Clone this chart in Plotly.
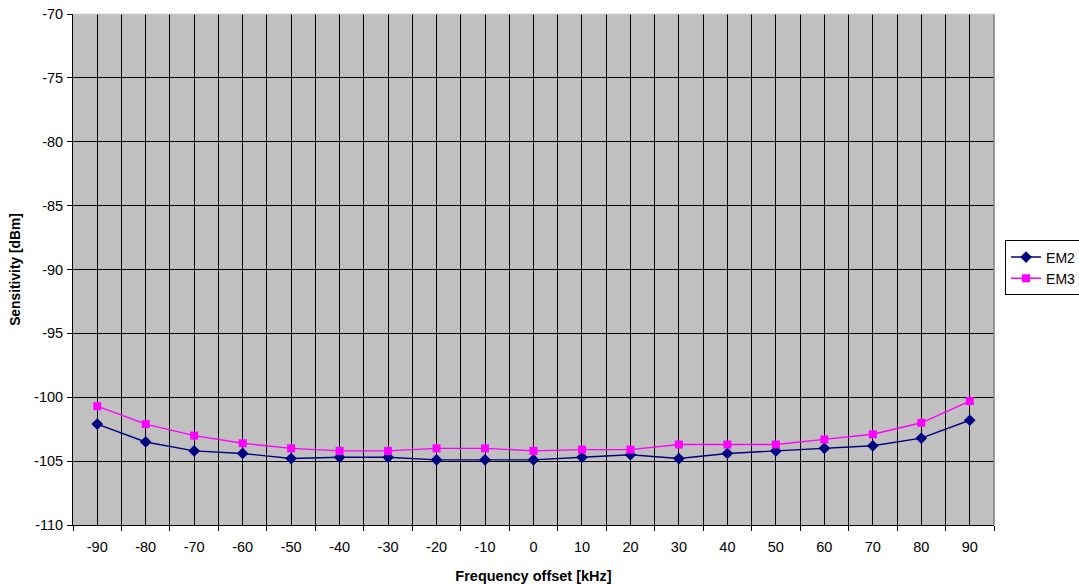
import plotly.graph_objects as go

freq = [-90, -80, -70, -60, -50, -40, -30, -20, -10, 0, 10, 20, 30, 40, 50, 60, 70, 80, 90]
em2 = [-102.1, -103.5, -104.2, -104.4, -104.8, -104.7, -104.7, -104.9, -104.9, -104.9,
       -104.7, -104.5, -104.8, -104.4, -104.2, -104.0, -103.8, -103.2, -101.8]
em3 = [-100.7, -102.1, -103.0, -103.6, -104.0, -104.2, -104.2, -104.0, -104.0, -104.2,
       -104.1, -104.1, -103.7, -103.7, -103.7, -103.3, -102.9, -102.0, -100.3]
y_ticks = [-110, -105, -100, -95, -90, -85, -80, -75, -70]

boundaries = [f - 5 for f in freq] + [freq[-1] + 5]

fig = go.Figure()
fig.add_trace(go.Scatter(x=freq, y=em2, mode="lines+markers", name="EM2",
                         line=dict(color="#000080", width=1.4),
                         marker=dict(symbol="diamond", size=9, color="#000080")))
fig.add_trace(go.Scatter(x=freq, y=em3, mode="lines+markers", name="EM3",
                         line=dict(color="#FF00FF", width=1.4),
                         marker=dict(symbol="square", size=8, color="#FF00FF")))

fig.update_layout(
    width=1079, height=584,
    margin=dict(l=73, r=85, t=14, b=59, autoexpand=False),
    paper_bgcolor="white", plot_bgcolor="#C0C0C0",
    font=dict(family="Liberation Sans, Arial, sans-serif", size=14.5, color="black"),
    legend=dict(x=1.012, xanchor="left", y=0.503, yanchor="middle",
                bordercolor="black", borderwidth=1, bgcolor="white",
                font=dict(size=14), itemwidth=30, tracegroupgap=0),
    showlegend=True,
)
fig.update_xaxes(
    range=[-95, 95], tickmode="array", tickvals=freq, ticktext=[str(f) for f in freq],
    showgrid=True, gridcolor="black", gridwidth=1, automargin=False,
    ticklabeloverflow="allow", ticklabelstandoff=9,
    ticks="", showline=True, linecolor="black", linewidth=1, mirror=False,
    zeroline=False,
    minor=dict(tickmode="array", tickvals=boundaries, showgrid=True, gridcolor="black",
               gridwidth=1, ticks="outside", ticklen=5, tickcolor="black"),
    title=dict(text="<b>Frequency offset [kHz]</b>", font=dict(size=14.5), standoff=16),
    tickfont=dict(size=14.5),
)
fig.update_yaxes(
    range=[-110, -70], tickmode="array", tickvals=y_ticks, ticktext=[str(v) for v in y_ticks],
    showgrid=True, gridcolor="black", gridwidth=1, automargin=False,
    ticklabeloverflow="allow", ticklabelstandoff=1,
    ticks="outside", ticklen=5, tickcolor="black",
    showline=True, linecolor="black", linewidth=1, zeroline=False,
    title=dict(text="<b>Sensitivity [dBm]</b>", font=dict(size=13.8), standoff=10),
    tickfont=dict(size=14.5),
)
# right and top border of plot area
fig.add_shape(type="line", xref="paper", yref="paper", x0=1, x1=1, y0=0, y1=1,
              line=dict(color="#808080", width=1.5))
fig.add_shape(type="line", xref="paper", yref="paper", x0=0, x1=1, y0=1, y1=1,
              line=dict(color="#D0D0D0", width=1))

fig.write_html("out.html", config={"displayModeBar": False},
               post_script="document.body.style.margin='0';document.body.style.overflow='hidden';")
